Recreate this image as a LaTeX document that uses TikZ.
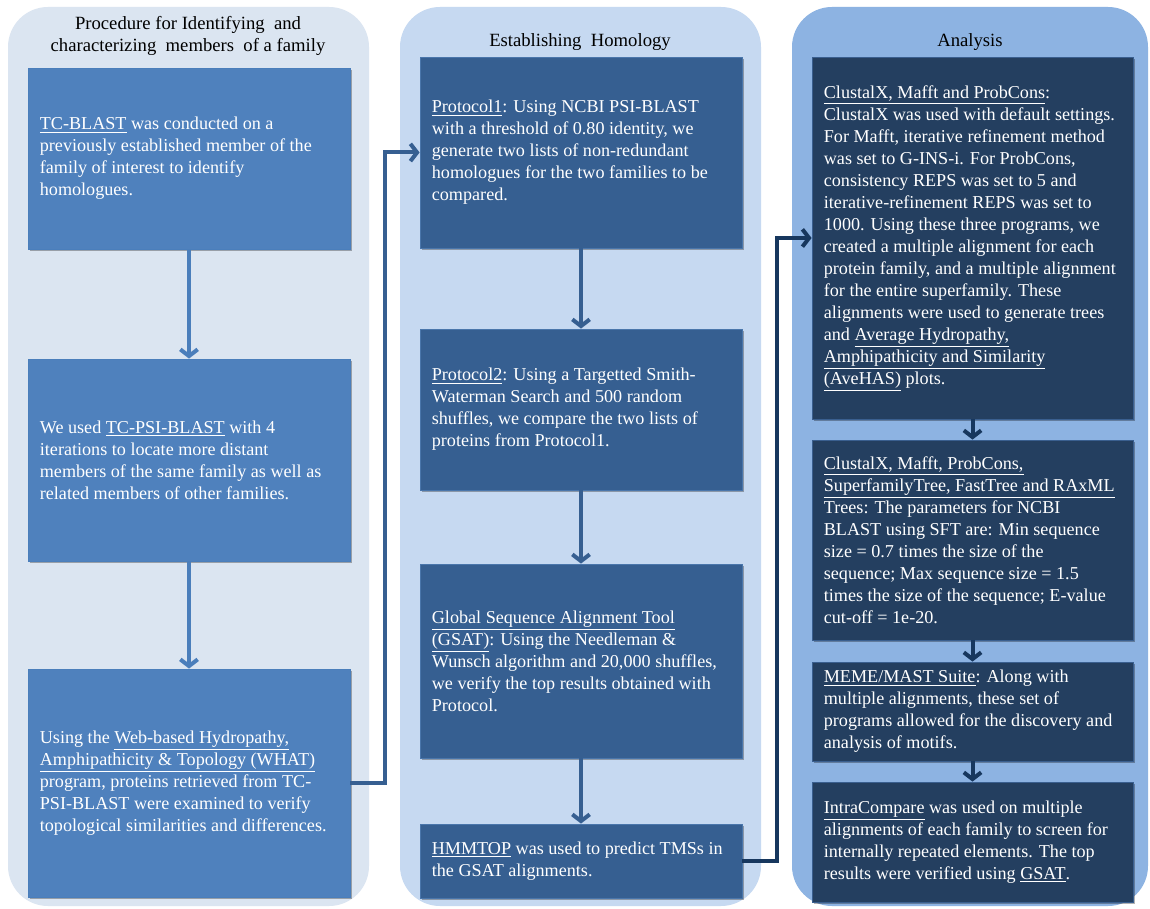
\documentclass[tikz,border=0pt]{standalone}
\usepackage{fontspec}
\setmainfont{Liberation Serif}
\usetikzlibrary{arrows.meta,shadows}
\definecolor{bgA}{HTML}{DBE5F1}
\definecolor{bgB}{HTML}{C6D9F1}
\definecolor{bgC}{HTML}{8DB3E2}
\definecolor{boxA}{HTML}{4F81BD}
\definecolor{boxB}{HTML}{365F91}
\definecolor{boxC}{HTML}{243F60}
\definecolor{edgeA}{HTML}{4A7EBB}
\definecolor{edgeB}{HTML}{4A76AB}
\definecolor{edgeC}{HTML}{3A5F8F}
\definecolor{lnA}{HTML}{4A7EBB}
\definecolor{lnB}{HTML}{365F91}
\definecolor{lnC}{HTML}{17375E}
\begin{document}
\begin{tikzpicture}[x=0.75pt,y=-0.75pt,
  panel/.style={rounded corners=30pt},
  boxbase/.style={inner sep=0pt, line width=0.6pt,
    drop shadow={shadow xshift=1.2pt, shadow yshift=-1.6pt, opacity=0.3, fill=black}},
  boxa/.style={boxbase, fill=boxA, draw=edgeA, minimum width=241.5pt},
  boxb/.style={boxbase, fill=boxB, draw=edgeB, minimum width=241.5pt},
  boxc/.style={boxbase, fill=boxC, draw=edgeC, minimum width=240.75pt},
  txt/.style={anchor=west, inner sep=0pt, align=left, text=white,
    font=\fontsize{13.6pt}{16.5pt}\selectfont},
  ttl/.style={inner sep=0pt, align=center, text=black,
    font=\fontsize{14pt}{16.5pt}\selectfont},
  tip/.style={-{Straight Barb[length=5pt,width=13pt]}},
  arra/.style={draw=lnA, line width=3pt, tip},
  arrb/.style={draw=lnB, line width=3pt, tip},
  arrc/.style={draw=lnC, line width=3pt, tip},
]
\useasboundingbox (0,0) rectangle (1150,909);
\fill[white] (0,0) rectangle (1150,909);
% panels
\fill[bgA, panel] (8,7) rectangle (369,906);
\fill[bgB, panel] (400,7) rectangle (761,906);
\fill[bgC, panel] (792,7) rectangle (1148,906);
% titles
\node[ttl] (t1) at (188,36) {Procedure for Identifying\ \ and\\characterizing\ \ members\ \ of a family};
\node[ttl] (t2) at (580,42) {Establishing\ \ Homology};
\node[ttl] (t3) at (970,42) {Analysis};
% column 1
\node[boxa, minimum height=135.75pt] (a1) at (189,158.5) {};
\node[txt] (a1t) at ([xshift=9pt]a1.west) {\underline{TC-BLAST} was conducted on a\\previously established member of the\\family of interest to identify\\homologues.};
\node[boxa, minimum height=151.5pt] (a2) at (189,460) {};
\node[txt] (a2t) at ([xshift=9pt]a2.west) {We used \underline{TC-PSI-BLAST} with 4\\iterations to locate more distant\\members of the same family as well as\\related members of other families.};
\node[boxa, minimum height=171pt] (a3) at (189,783) {};
\node[txt] (a3t) at ([xshift=9pt]a3.west) {Using the \underline{Web-based Hydropathy,}\\\underline{Amphipathicity \& Topology (WHAT)}\\program, proteins retrieved from TC-\\PSI-BLAST were examined to verify\\topological similarities and differences.};
% column 2
\node[boxb, minimum height=143.25pt] (b1) at (581,152.5) {};
\node[txt] (b1t) at ([xshift=9pt]b1.west) {\underline{Protocol1}: Using NCBI PSI-BLAST\\with a threshold of 0.80 identity, we\\generate two lists of non-redundant\\homologues for the two families to be\\compared.};
\node[boxb, minimum height=120.75pt] (b2) at (581,409.5) {};
\node[txt] (b2t) at ([xshift=9pt]b2.west) {\underline{Protocol2}: Using a Targetted Smith-\\Waterman Search and 500 random\\shuffles, we compare the two lists of\\proteins from Protocol1.};
\node[boxb, minimum height=145.5pt] (b3) at (581,661) {};
\node[txt] (b3t) at ([xshift=9pt]b3.west) {\underline{Global Sequence Alignment Tool}\\\underline{(GSAT)}: Using the Needleman \&\\Wunsch algorithm and 20,000 shuffles,\\we verify the top results obtained with\\Protocol.};
\node[boxb, minimum height=55.5pt] (b4) at (581,861) {};
\node[txt] (b4t) at ([xshift=9pt]b4.west) {\underline{HMMTOP} was used to predict TMSs in\\the GSAT alignments.};
% column 3
\node[boxc, minimum height=271.5pt] (c1) at (972.5,238) {};
\node[txt] (c1t) at ([xshift=9pt]c1.west) {\underline{ClustalX, Mafft and ProbCons}:\\ClustalX was used with default settings.\\For Mafft, iterative refinement method\\was set to G-INS-i. For ProbCons,\\consistency REPS was set to 5 and\\iterative-refinement REPS was set to\\1000. Using these three programs, we\\created a multiple alignment for each\\protein family, and a multiple alignment\\for the entire superfamily. These\\alignments were used to generate trees\\and \underline{Average Hydropathy,}\\\underline{Amphipathicity and Similarity}\\\underline{(AveHAS)} plots.};
\node[boxc, minimum height=150pt] (c2) at (972.5,540) {};
\node[txt] (c2t) at ([xshift=9pt]c2.west) {\underline{ClustalX, Mafft, ProbCons,}\\\underline{SuperfamilyTree, FastTree and RAxML}\\Trees: The parameters for NCBI\\BLAST using SFT are: Min sequence\\size = 0.7 times the size of the\\sequence; Max sequence size = 1.5\\times the size of the sequence; E-value\\cut-off = 1e-20.};
\node[boxc, minimum height=74.25pt] (c3) at (972.5,711.5) {};
\node[txt] (c3t) at ([xshift=9pt]c3.west) {\underline{MEME/MAST Suite}: Along with\\multiple alignments, these set of\\programs allowed for the discovery and\\analysis of motifs.};
\node[boxc, minimum height=90pt] (c4) at (972.5,842) {};
\node[txt] (c4t) at ([xshift=9pt]c4.west) {\underline{IntraCompare} was used on multiple\\alignments of each family to screen for\\internally repeated elements. The top\\results were verified using \underline{GSAT}.};
% arrows within columns
\draw[arra] (a1.south) -- (a2.north);
\draw[arra] (a2.south) -- (a3.north);
\draw[arrb] (b1.south) -- (b2.north);
\draw[arrb] (b2.south) -- (b3.north);
\draw[arrb] (b3.south) -- (b4.north);
\draw[arrc] (c1.south) -- (c2.north);
\draw[arrc] (c2.south) -- (c3.north);
\draw[arrc] (c3.south) -- (c4.north);
% connectors between columns
\coordinate (k1) at (385,450);
\coordinate (k2) at (777,500);
\draw[arrb] (a3.east) -| (k1) |- (b1.west);
\draw[arrc] (b4.east) -| (k2) |- (c1.west);
\end{tikzpicture}
\end{document}
